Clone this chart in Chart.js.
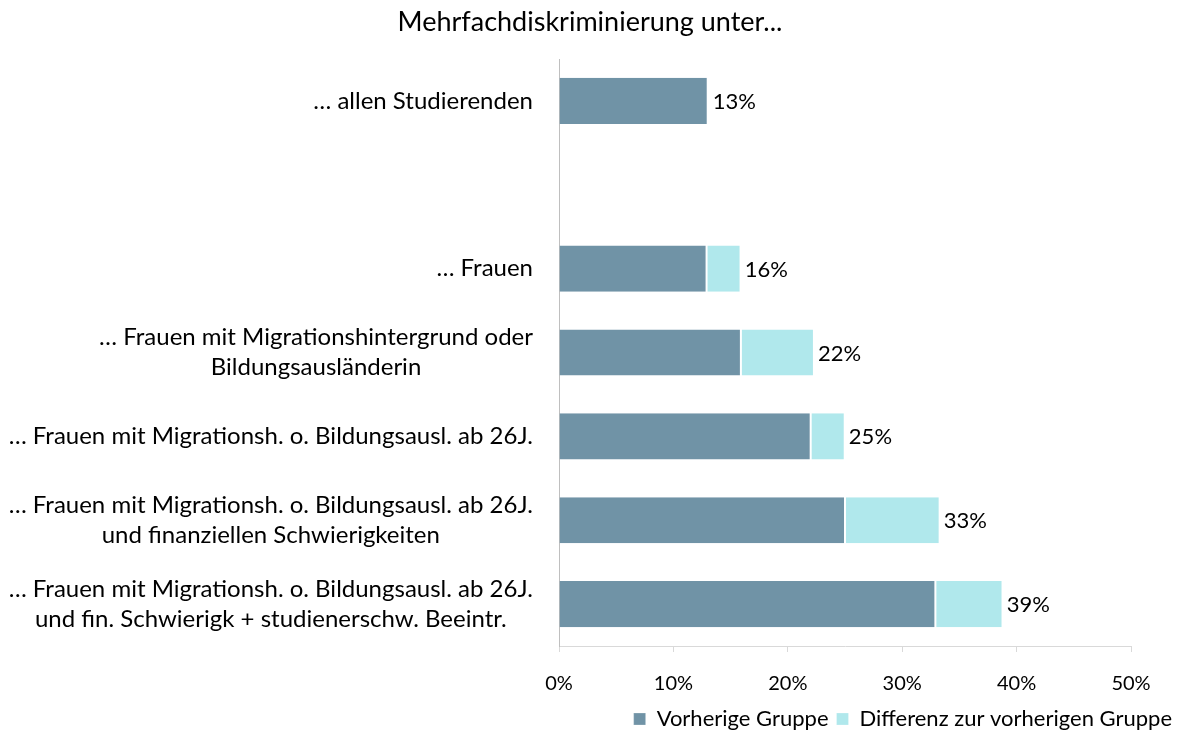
<!DOCTYPE html>
<html>
<head>
<meta charset="utf-8">
<script src="https://cdn.jsdelivr.net/npm/chart.js@4"></script>
<style>
  body { margin: 0; background: #fff; }
</style>
</head>
<body>
<canvas id="chart" width="1180" height="731"></canvas>
<script>
const categories = [
  ['… allen Studierenden'],
  [''],
  ['… Frauen'],
  ['… Frauen mit Migrationshintergrund oder', 'Bildungsausländerin'],
  ['… Frauen mit Migrationsh. o. Bildungsausl. ab 26J.'],
  ['… Frauen mit Migrationsh. o. Bildungsausl. ab 26J.', 'und finanziellen Schwierigkeiten'],
  ['… Frauen mit Migrationsh. o. Bildungsausl. ab 26J.', 'und fin. Schwierigk + studienerschw. Beeintr.']
];
const previousGroup = [13, null, 12.9, 15.9, 22.0, 25.0, 32.9];
const difference = [0, null, 2.9, 6.3, 2.9, 8.2, 5.8];
const xTicks = [0, 10, 20, 30, 40, 50];

const FONT = 'Lato, "Open Sans", sans-serif';
const darkCol = '#7093a6';
const lightCol = '#b0e8ec';

// labels on the left, each block right-aligned, lines centered inside it
const catLabels = {
  id: 'catLabels',
  afterDraw(chart) {
    const ctx = chart.ctx;
    const y = chart.scales.y;
    const right = chart.chartArea.left - 26;
    ctx.save();
    ctx.font = '24px ' + FONT;
    ctx.fillStyle = '#000';
    ctx.textBaseline = 'middle';
    ctx.textAlign = 'center';
    categories.forEach((lines, i) => {
      const cy = y.getPixelForValue(i);
      const w = Math.max(...lines.map(l => ctx.measureText(l).width));
      const lh = 30;
      lines.forEach((l, j) => {
        ctx.fillText(l, right - w / 2, cy + (j - (lines.length - 1) / 2) * lh);
      });
    });
    ctx.restore();
  }
};

// total value at the end of each bar
const totals = {
  id: 'totals',
  afterDatasetsDraw(chart) {
    const ctx = chart.ctx;
    const meta = chart.getDatasetMeta(1);
    const meta0 = chart.getDatasetMeta(0);
    ctx.save();
    ctx.font = '22px ' + FONT;
    ctx.fillStyle = '#000';
    ctx.textBaseline = 'middle';
    ctx.textAlign = 'left';
    categories.forEach((c, i) => {
      if (previousGroup[i] == null) return;
      const tot = previousGroup[i] + (difference[i] || 0);
      const bar = difference[i] ? meta.data[i] : meta0.data[i];
      ctx.fillText(Math.round(tot) + '%', bar.x + 5, bar.y + 1);
    });
    ctx.restore();
  }
};

new Chart(document.getElementById('chart'), {
  type: 'bar',
  data: {
    labels: categories,
    datasets: [
      { label: 'Vorherige Gruppe', data: previousGroup, backgroundColor: darkCol,
        borderColor: '#fff', borderWidth: { right: 1 }, borderSkipped: false },
      { label: 'Differenz zur vorherigen Gruppe', data: difference, backgroundColor: lightCol,
        borderColor: '#fff', borderWidth: { left: 1 }, borderSkipped: false }
    ]
  },
  options: {
    indexAxis: 'y',
    responsive: false,
    animation: false,
    layout: { padding: { left: 0, right: 0, top: 0, bottom: -9 } },
    datasets: { bar: { barPercentage: 0.55, categoryPercentage: 1 } },
    plugins: {
      title: {
        display: true,
        text: 'Mehrfachdiskriminierung unter...',
        color: '#000',
        font: { family: FONT, size: 27, weight: 'normal' },
        padding: { top: 6, bottom: 20.6 }
      },
      legend: {
        position: 'bottom',
        align: 'end',
        labels: {
          color: '#000',
          font: { family: FONT, size: 22 },
          boxWidth: 12, boxHeight: 12, padding: 8
        }
      },
      tooltip: { enabled: false }
    },
    scales: {
      x: {
        stacked: true,
        min: 0, max: 50,
        afterBuildTicks: s => { s.ticks = xTicks.map(v => ({ value: v })); },
        afterFit: s => { s.height -= 16; },
        ticks: { callback: v => v + '%', color: '#000', font: { family: FONT, size: 20 }, padding: 20 },
        grid: { drawOnChartArea: false, drawTicks: true, tickLength: 6, color: '#d9d9d9' },
        border: { color: '#d9d9d9' }
      },
      y: {
        stacked: true,
        ticks: { display: false },
        grid: { display: false },
        border: { color: '#bfbfbf' },
        afterFit: s => { s.width = 559; }
      },
      yR: {
        position: 'right',
        type: 'category',
        ticks: { display: false },
        grid: { display: false },
        border: { display: false },
        afterFit: s => { s.width = 49; }
      }
    }
  },
  plugins: [catLabels, totals]
});
</script>
</body>
</html>
